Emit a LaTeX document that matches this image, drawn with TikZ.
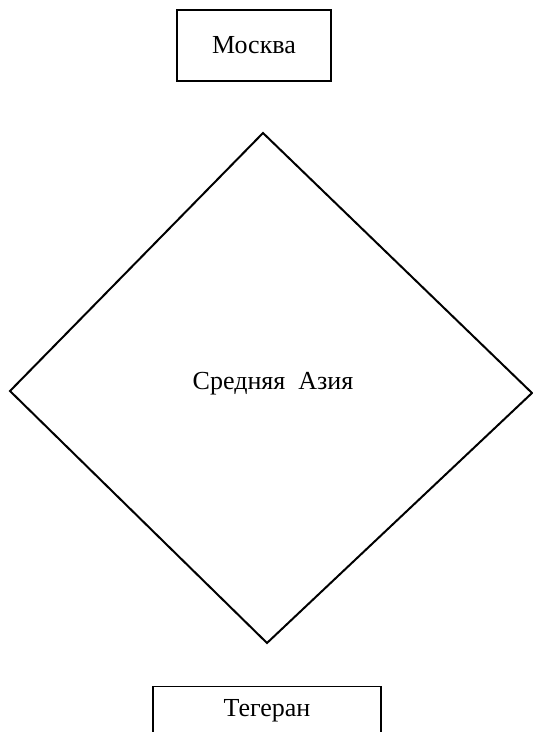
\documentclass[tikz,border=0pt]{standalone}
\usepackage{fontspec}
\setmainfont{Liberation Serif}
\tikzset{citybox/.style={draw, line width=0.6pt, inner sep=0pt, align=center, font=\fontsize{13}{15}\selectfont},
  citytext/.style={font=\fontsize{13}{15}\selectfont}}
\begin{document}
\begin{tikzpicture}[x=0.5pt,y=-0.5pt]
\useasboundingbox (0,0) rectangle (533,732);
\clip (0,0) rectangle (533,732);
\node[citybox, minimum width=77pt, minimum height=35.5pt] (moscow) at (254,45.5) {Москва};
% diamond
\coordinate (asiatop) at (263,133);
\coordinate (asiaright) at (532,393);
\coordinate (asiabottom) at (267,643);
\coordinate (asialeft) at (10,391);
\draw[line width=1pt, line join=miter] (asiatop) -- (asiaright) -- (asiabottom) -- (asialeft) -- cycle;
\node[citytext] (asia) at (273,384) {Средняя~~Азия};
\node[citybox, minimum width=114pt, minimum height=40pt, anchor=north] (tehran) at (267,686) {};
\node[citytext] (tehrantext) at (267,711) {Тегеран};
\end{tikzpicture}
\end{document}
